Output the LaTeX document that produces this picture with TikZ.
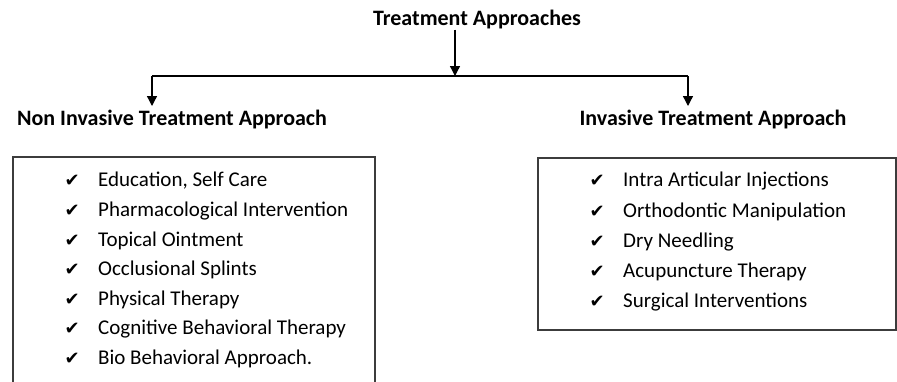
\documentclass[tikz,border=0pt]{standalone}
\usepackage{fontspec}
\setmainfont{Carlito}
\newfontfamily\symfont{DejaVu Sans}
\usetikzlibrary{arrows.meta,positioning}
\definecolor{boxline}{RGB}{60,60,60}

\tikzset{
  head/.style={font=\fontsize{22}{26}\selectfont\bfseries, inner sep=0pt},
  item/.style={font=\fontsize{21}{25}\selectfont, anchor=west, inner sep=0pt},
  tick/.style={font=\symfont\fontsize{18}{20}\selectfont, inner sep=0pt, anchor=base east},
  conn/.style={line width=1.3pt, -{Triangle[length=10pt,width=10pt]}},
  box/.style={draw=boxline, line width=1.4pt},
}

\begin{document}
\begin{tikzpicture}[x=1pt,y=-1pt]
		\useasboundingbox (0,0) rectangle (897,381);
		\node[head] (title) at (477,20) {Treatment Approaches};
		\node[head] (noninv) at (172,120) {Non Invasive Treatment Approach};
		\node[head] (inv) at (713,120) {Invasive Treatment Approach};
		\coordinate (split) at (455,76);
		\coordinate (lturn) at (152,76);
		\coordinate (rturn) at (688,76);
		\coordinate (lend) at (152,106);
		\coordinate (rend) at (688,106);
		% arrows
		\draw[conn] (title.south -| split) -- (split);
		\draw[line width=1.3pt] (lturn) -- (rturn);
		\draw[conn] (lturn) -- (lend);
		\draw[conn] (rturn) -- (rend);
		% boxes
		\draw[box] (13,157) rectangle (375,400);
		\draw[box] (538,158) rectangle (896,330);
		\foreach \txt [count=\i] in {{Education, Self Care}, Pharmacological Intervention, Topical Ointment, Occlusional Splints, Physical Therapy, Cognitive Behavioral Therapy, Bio Behavioral Approach.}
		{
			\node[item] (nitem\i) at (98, 151.3+29.7*\i) {\txt};
			\node[tick] (ntick\i) at ([xshift=-18pt]nitem\i.base west) {✔};
		}
		\foreach \txt [count=\i] in {Intra Articular Injections, Orthodontic Manipulation, Dry Needling, Acupuncture Therapy, Surgical Interventions}
		{
			\node[item] (iitem\i) at (623, 151.3+30.2*\i) {\txt};
			\node[tick] (itick\i) at ([xshift=-18pt]iitem\i.base west) {✔};
		}
\end{tikzpicture}
\end{document}
